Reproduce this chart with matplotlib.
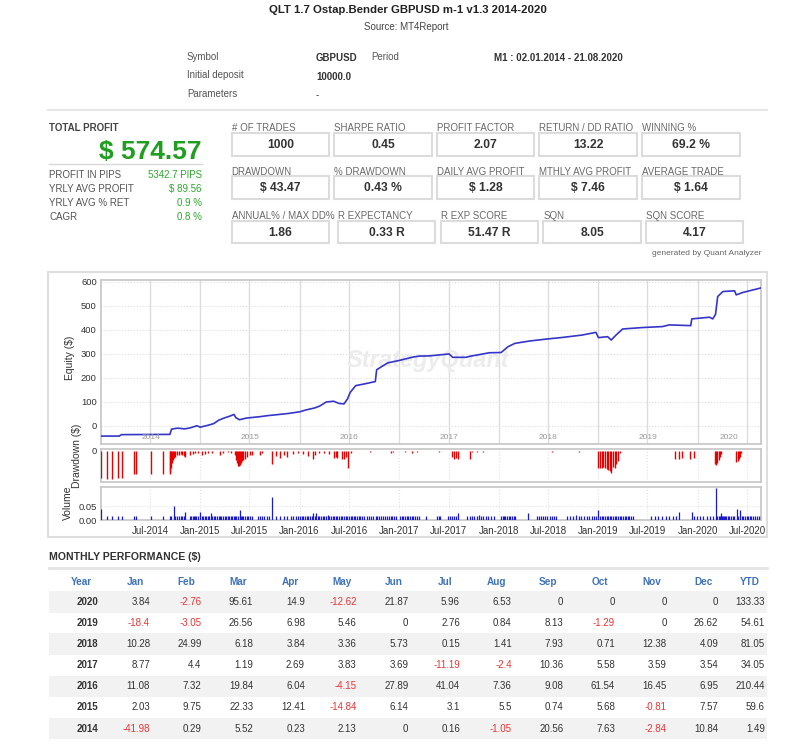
import matplotlib
matplotlib.use('Agg')
import matplotlib.pyplot as plt
import matplotlib.dates as mdates
import matplotlib.ticker as mticker
from matplotlib.patches import Rectangle
from matplotlib.lines import Line2D
import numpy as np
import pandas as pd

plt.rcParams['font.family'] = ['Liberation Sans', 'DejaVu Sans']

# ---- report data ----
TITLE = 'QLT 1.7 Ostap.Bender GBPUSD m-1 v1.3 2014-2020'
SOURCE = 'Source: MT4Report'
SYMBOL = 'GBPUSD'
PERIOD = 'M1 : 02.01.2014 - 21.08.2020'
DEPOSIT = '10000.0'

TOTAL_PROFIT = '$ 574.57'
SIDE_LABELS = ['PROFIT IN PIPS', 'YRLY AVG PROFIT', 'YRLY AVG % RET', 'CAGR']
SIDE_VALUES = ['5342.7 PIPS', '$ 89.56', '0.9 %', '0.8 %']

STAT_LABELS_1 = ['# OF TRADES', 'SHARPE RATIO', 'PROFIT FACTOR', 'RETURN / DD RATIO', 'WINNING %']
STAT_VALUES_1 = ['1000', '0.45', '2.07', '13.22', '69.2 %']
STAT_LABELS_2 = ['DRAWDOWN', '% DRAWDOWN', 'DAILY AVG PROFIT', 'MTHLY AVG PROFIT', 'AVERAGE TRADE']
STAT_VALUES_2 = ['$ 43.47', '0.43 %', '$ 1.28', '$ 7.46', '$ 1.64']
STAT_LABELS_3 = ['ANNUAL% / MAX DD%', 'R EXPECTANCY', 'R EXP SCORE', 'SQN', 'SQN SCORE']
STAT_VALUES_3 = ['1.86', '0.33 R', '51.47 R', '8.05', '4.17']

# equity curve ($)
EQ_DATES = ['2014-01-02', '2014-03-10', '2014-03-18', '2014-09-12', '2014-09-18', '2014-10-10',
            '2014-11-05', '2014-11-25', '2014-12-20',
            '2015-01-01', '2015-01-30', '2015-02-20', '2015-03-10', '2015-04-01', '2015-04-20',
            '2015-05-05', '2015-05-12', '2015-05-25', '2015-06-20', '2015-08-10', '2015-09-05',
            '2015-10-01', '2015-11-20',
            '2016-01-01', '2016-01-25', '2016-02-25', '2016-03-15', '2016-04-08', '2016-05-05',
            '2016-05-25', '2016-06-12', '2016-06-25', '2016-07-05', '2016-07-25', '2016-08-25',
            '2016-10-05', '2016-10-10', '2016-10-25', '2016-11-20',
            '2017-01-01', '2017-02-20', '2017-03-15', '2017-04-22', '2017-07-03', '2017-07-16',
            '2017-09-03', '2017-09-16', '2017-11-28',
            '2018-01-10', '2018-02-04', '2018-03-01', '2018-04-25', '2018-06-25', '2018-08-25',
            '2018-11-05', '2018-12-24',
            '2019-01-02', '2019-02-05', '2019-02-18', '2019-03-08', '2019-04-01', '2019-06-13',
            '2019-08-25', '2019-09-19', '2019-12-07', '2019-12-11',
            '2020-02-14', '2020-02-26', '2020-03-07', '2020-03-15', '2020-04-03', '2020-05-16',
            '2020-05-22', '2020-06-15', '2020-08-21']
EQ_VALUES = [-42, -42, -36, -35, -13, -9, -12, -8, 1,
             -5, 3, 10, 24, 34, 41, 48, 35, 26, 33, 39, 43, 46, 52,
             59, 67, 75, 83, 100, 103, 94, 92, 113, 140, 168, 175, 185, 234, 245, 263,
             273, 287, 291, 292, 300, 286, 286, 290, 305,
             306, 330, 344, 354, 362, 369, 379, 390,
             368, 372, 358, 379, 404, 410, 414, 421, 418, 446,
             453, 446, 465, 539, 560, 563, 546, 556, 575]

# drawdown bars ($)
DD_DATES = ['2014-01-03', '2014-01-24', '2014-02-12', '2014-03-06', '2014-03-19', '2014-05-03',
            '2014-05-12', '2014-07-04', '2014-08-17', '2014-09-11', '2014-09-14', '2014-09-17',
            '2014-09-20', '2014-09-23', '2014-09-26', '2014-10-02', '2014-10-08', '2014-10-15',
            '2014-10-22', '2014-10-28', '2014-11-02', '2014-11-07', '2014-11-25', '2014-12-04',
            '2014-12-13', '2014-12-23',
            '2015-01-06', '2015-01-17', '2015-01-28', '2015-02-14', '2015-03-15', '2015-03-26',
            '2015-04-12', '2015-04-23', '2015-05-09', '2015-05-13', '2015-05-16', '2015-05-19',
            '2015-05-22', '2015-05-26', '2015-05-30', '2015-06-04', '2015-06-09', '2015-06-15',
            '2015-06-21', '2015-07-03', '2015-07-09', '2015-08-08', '2015-08-15', '2015-09-20',
            '2015-10-06', '2015-10-20', '2015-11-03', '2015-11-17', '2015-12-07', '2015-12-26',
            '2016-01-15', '2016-02-02', '2016-02-19', '2016-02-25', '2016-03-14', '2016-04-01',
            '2016-04-19', '2016-05-07', '2016-05-13', '2016-05-19', '2016-06-06', '2016-06-12',
            '2016-06-18', '2016-06-27', '2016-07-06', '2016-09-16', '2016-11-30', '2016-12-10',
            '2017-01-22', '2017-02-15', '2017-03-08', '2017-05-27', '2017-07-12', '2017-07-20',
            '2017-07-28', '2017-08-05', '2017-09-16', '2017-09-25', '2017-10-12', '2017-11-06',
            '2017-12-04',
            '2018-01-20', '2018-03-03', '2018-05-28', '2018-07-15', '2018-09-20', '2018-10-22',
            '2018-11-20',
            '2019-01-02', '2019-01-08', '2019-01-14', '2019-01-20', '2019-01-26', '2019-02-01',
            '2019-02-07', '2019-02-13', '2019-02-19', '2019-02-25', '2019-03-03', '2019-03-09',
            '2019-03-15', '2019-03-21', '2019-10-12', '2019-10-24', '2019-11-06', '2019-12-05',
            '2019-12-18',
            '2020-03-06', '2020-03-10', '2020-03-14', '2020-03-18', '2020-03-22', '2020-03-26',
            '2020-05-22', '2020-05-27', '2020-06-01', '2020-06-06', '2020-06-10']
DD_VALUES = [-40, -42, -42, -41, -40, -35, -35, -34, -34, -34, -31, -25, -19, -14, -11, -9, -7, -6,
             -5, -6, -8, -9, -7, -5, -4, -3,
             -6, -5, -4, -3, -7, -3, -2, -3, -6, -14, -19, -22, -23, -21, -18, -16, -14, -12,
             -9, -7, -6, -6, -4, -20, -8, -11, -7, -9, -5, -4,
             -5, -8, -12, -6, -4, -3, -5, -11, -9, -11, -12, -13, -10, -25, -4, -2, -3, -2,
             -2, -3, -2, -1.5, -10, -12, -11, -12, -12, -2, -2, -1.5, -1,
             -1, -1, -1, -2, -1, -1.5, -1,
             -26, -25, -25, -24, -25, -27, -29, -30, -33, -24, -26, -20, -15, -4, -13, -13, -11,
             -12, -11,
             -20, -21, -19, -14, -10, -5, -17, -16, -13, -9, -4]

# volume bars (lots): ordinary trades plus the taller ones
VOL_BASE = 0.015
VOL_DATES = ['2014-01-24', '2014-02-12', '2014-03-06', '2014-03-19', '2014-05-03', '2014-05-12',
             '2014-07-04', '2014-08-17', '2014-09-11', '2014-09-16', '2014-10-02', '2014-10-08',
             '2014-10-15', '2014-10-22', '2014-10-28', '2014-11-02', '2014-11-25', '2014-11-29',
             '2014-12-04', '2014-12-09', '2014-12-13', '2014-12-18', '2014-12-23',
             '2015-01-06', '2015-01-12', '2015-01-17', '2015-01-22', '2015-01-28', '2015-02-03',
             '2015-02-14', '2015-02-20', '2015-02-26', '2015-03-04', '2015-03-10', '2015-03-14',
             '2015-03-20', '2015-03-26', '2015-04-01', '2015-04-07', '2015-04-12', '2015-04-18',
             '2015-04-23', '2015-04-29', '2015-05-04', '2015-05-09', '2015-05-14', '2015-05-19',
             '2015-05-30', '2015-06-04', '2015-06-09', '2015-06-15', '2015-06-21', '2015-06-27',
             '2015-07-03', '2015-07-09', '2015-08-01', '2015-08-08', '2015-08-15', '2015-08-24',
             '2015-09-05', '2015-09-12', '2015-10-06', '2015-10-20', '2015-11-03', '2015-11-17',
             '2015-12-01', '2015-12-07', '2015-12-20', '2015-12-26',
             '2016-01-04', '2016-01-09', '2016-01-15', '2016-01-21', '2016-01-27', '2016-02-02',
             '2016-02-08', '2016-02-14', '2016-02-25', '2016-03-08', '2016-03-14', '2016-03-20',
             '2016-03-26', '2016-04-01', '2016-04-07', '2016-04-19', '2016-04-25', '2016-05-01',
             '2016-05-07', '2016-05-13', '2016-05-19', '2016-05-25', '2016-05-31', '2016-06-06',
             '2016-06-12', '2016-06-18', '2016-06-24', '2016-06-30', '2016-07-06', '2016-07-12',
             '2016-07-18', '2016-07-24', '2016-07-30', '2016-08-05', '2016-08-11', '2016-08-17',
             '2016-08-23', '2016-09-05', '2016-09-12', '2016-09-20', '2016-09-27', '2016-10-06',
             '2016-10-12', '2016-10-18', '2016-10-25', '2016-11-02', '2016-11-09', '2016-11-16',
             '2016-11-24', '2016-11-30', '2016-12-06', '2016-12-12', '2016-12-19',
             '2017-01-04', '2017-01-10', '2017-01-16', '2017-01-22', '2017-01-28', '2017-02-03',
             '2017-02-09', '2017-02-15', '2017-02-21', '2017-03-01', '2017-03-08', '2017-03-15',
             '2017-04-10', '2017-05-20', '2017-05-27', '2017-06-01', '2017-06-28', '2017-07-05',
             '2017-07-12', '2017-07-20', '2017-07-28', '2017-09-08', '2017-09-16', '2017-09-25',
             '2017-10-03', '2017-10-12', '2017-10-28', '2017-11-06', '2017-11-15', '2017-11-24',
             '2017-12-04', '2017-12-14',
             '2018-01-10', '2018-01-15', '2018-01-20', '2018-01-26', '2018-02-01', '2018-02-07',
             '2018-02-13', '2018-02-19', '2018-02-25', '2018-03-03', '2018-05-20', '2018-05-28',
             '2018-06-05', '2018-06-13', '2018-06-21', '2018-06-29', '2018-07-07', '2018-07-15',
             '2018-07-23', '2018-08-01', '2018-09-07', '2018-09-20', '2018-10-02', '2018-10-22',
             '2018-11-01', '2018-11-10', '2018-11-20', '2018-11-30', '2018-12-08', '2018-12-16',
             '2018-12-24',
             '2019-01-08', '2019-01-14', '2019-01-20', '2019-01-26', '2019-02-01', '2019-02-07',
             '2019-02-13', '2019-02-19', '2019-02-25', '2019-03-03', '2019-03-09', '2019-03-15',
             '2019-03-21', '2019-03-27', '2019-04-02', '2019-04-08', '2019-04-14', '2019-04-20',
             '2019-04-26', '2019-05-02', '2019-05-08', '2019-07-15', '2019-07-28', '2019-08-10',
             '2019-08-24', '2019-09-07', '2019-09-20', '2019-10-03', '2019-10-15', '2019-12-20',
             '2019-12-30',
             '2020-01-10', '2020-01-22', '2020-02-03', '2020-02-14', '2020-02-26', '2020-03-14',
             '2020-03-18', '2020-03-22', '2020-03-30', '2020-04-03', '2020-04-07', '2020-04-11',
             '2020-04-16', '2020-04-21', '2020-04-27', '2020-05-03', '2020-05-09', '2020-05-15',
             '2020-05-30', '2020-06-11', '2020-06-17', '2020-06-23', '2020-06-29', '2020-07-05',
             '2020-07-11', '2020-07-17', '2020-07-24', '2020-07-31', '2020-08-07', '2020-08-14',
             '2020-08-20']
VOL_PEAK_DATES = ['2014-01-03', '2014-09-26', '2014-11-07', '2014-12-31', '2015-02-08', '2015-05-26',
                  '2015-09-20', '2016-02-19', '2016-03-02', '2016-04-13', '2017-08-05', '2017-10-20',
                  '2018-04-17', '2018-10-12', '2019-01-02', '2019-10-24', '2019-12-10', '2020-03-08',
                  '2020-03-26', '2020-05-25', '2020-06-05']
VOL_PEAK_LOTS = [0.04, 0.05, 0.03, 0.03, 0.025, 0.035, 0.083, 0.025, 0.025, 0.02, 0.025, 0.02,
                 0.025, 0.02, 0.035, 0.03, 0.03, 0.115, 0.025, 0.04, 0.035]

MONTHS = ['Jan', 'Feb', 'Mar', 'Apr', 'May', 'Jun', 'Jul', 'Aug', 'Sep', 'Oct', 'Nov', 'Dec', 'YTD']
YEARS = ['2020', '2019', '2018', '2017', '2016', '2015', '2014']
PERF_2020 = [3.84, -2.76, 95.61, 14.9, -12.62, 21.87, 5.96, 6.53, 0, 0, 0, 0, 133.33]
PERF_2019 = [-18.4, -3.05, 26.56, 6.98, 5.46, 0, 2.76, 0.84, 8.13, -1.29, 0, 26.62, 54.61]
PERF_2018 = [10.28, 24.99, 6.18, 3.84, 3.36, 5.73, 0.15, 1.41, 7.93, 0.71, 12.38, 4.09, 81.05]
PERF_2017 = [8.77, 4.4, 1.19, 2.69, 3.83, 3.69, -11.19, -2.4, 10.36, 5.58, 3.59, 3.54, 34.05]
PERF_2016 = [11.08, 7.32, 19.84, 6.04, -4.15, 27.89, 41.04, 7.36, 9.08, 61.54, 16.45, 6.95, 210.44]
PERF_2015 = [2.03, 9.75, 22.33, 12.41, -14.84, 6.14, 3.1, 5.5, 0.74, 5.68, -0.81, 7.57, 59.6]
PERF_2014 = [-41.98, 0.29, 5.52, 0.23, 2.13, 0, 0.16, -1.05, 20.56, 7.63, -2.84, 10.84, 1.49]
PERF_ROWS = [PERF_2020, PERF_2019, PERF_2018, PERF_2017, PERF_2016, PERF_2015, PERF_2014]

START, END = '2014-01-02', '2020-08-21'

# ---- figure in pixel coordinates ----
W, H = 787, 750
fig = plt.figure(figsize=(W / 100, H / 100), dpi=100)
fig.patch.set_facecolor('white')

GREEN = '#1f9e1f'
DARK = '#333333'
GREY = '#666666'
RED = '#ee3333'
BLUE = '#3f72b8'


def fx(x):
    return x / W


def fy(y):
    return 1 - y / H


def txt(x, y, s, size=7, color=GREY, weight='normal', ha='left', **kw):
    fig.text(fx(x), fy(y), s, fontsize=size, color=color, fontweight=weight,
             ha=ha, va='center', **kw)


def hline(x0, x1, y, color='#e6e6e6', lw=1.5):
    fig.add_artist(Line2D([fx(x0), fx(x1)], [fy(y), fy(y)], color=color, lw=lw,
                          transform=fig.transFigure))


def rect(x0, y0, x1, y1, ec='#dcdcdc', fc='none', lw=1.5, z=1):
    fig.add_artist(Rectangle((fx(x0), fy(y1)), (x1 - x0) / W, (y1 - y0) / H,
                             transform=fig.transFigure, ec=ec, fc=fc, lw=lw, zorder=z))


# header
txt(408, 10, TITLE, size=8.2, color='#222222', weight='bold', ha='center')
txt(406, 27, SOURCE, size=7, color='#444444', ha='center')
txt(187, 57, 'Symbol', color='#555555')
txt(316, 58, SYMBOL, color=DARK, weight='bold')
txt(371, 57, 'Period', color='#555555')
txt(494, 58, PERIOD, color=DARK, weight='bold')
txt(187, 75.5, 'Initial deposit', color='#555555')
txt(316, 76.5, DEPOSIT, color=DARK, weight='bold')
txt(187, 94, 'Parameters', color='#555555')
txt(316, 95, '-', color=DARK)
hline(48, 767, 109.5)

# total profit block
txt(49, 128, 'TOTAL PROFIT', size=7, color='#444444', weight='bold')
txt(202, 152, TOTAL_PROFIT, size=19, color=GREEN, weight='bold', ha='right')
hline(49, 202, 164, color='#d8d8d8', lw=1)
for i, (lab, val) in enumerate(zip(SIDE_LABELS, SIDE_VALUES)):
    yy = 174.5 + i * 14.2
    txt(49, yy, lab, color='#555555')
    txt(202, yy, val, color='#2ca82c', ha='right')

# stat boxes
rows = [(STAT_LABELS_1, STAT_VALUES_1, [231.7, 334.3, 436.7, 539.3, 642.3], 97.7, 128.3, 132.7, 155.7),
        (STAT_LABELS_2, STAT_VALUES_2, [231.7, 334.3, 436.7, 539.3, 642.3], 97.7, 172.3, 176.3, 199.3),
        (STAT_LABELS_3, STAT_VALUES_3, [231.7, 337.7, 440.7, 543.3, 645.7], 97.7, 216, 220.7, 243.3)]
for labels, values, xs, bw, ly, y0, y1 in rows:
    for lab, val, x0 in zip(labels, values, xs):
        txt(x0, ly, lab, color='#6a6a6a')
        rect(x0, y0, x0 + bw, y1)
        txt(x0 + bw / 2, (y0 + y1) / 2 + 0.5, val, size=8.7, color=DARK, weight='bold', ha='center')
txt(762, 253.5, 'generated by Quant Analyzer', size=6, color='#666666', ha='right')

# ---- charts ----
rect(48, 272, 767, 537, ec='#dedede', lw=1.5)
L, R = 101, 761
ax_eq = fig.add_axes([fx(L), fy(444), (R - L) / W, (444 - 280) / H])
ax_dd = fig.add_axes([fx(L), fy(481.7), (R - L) / W, (481.7 - 449.3) / H], sharex=ax_eq)
ax_vol = fig.add_axes([fx(L), fy(520), (R - L) / W, (520 - 487.3) / H], sharex=ax_eq)

eq_t = pd.to_datetime(EQ_DATES)
dd_t = pd.to_datetime(DD_DATES)
vol_t = pd.to_datetime(VOL_DATES)
pk_t = pd.to_datetime(VOL_PEAK_DATES)
t0, t1 = pd.Timestamp(START), pd.Timestamp(END)

for ax in (ax_eq, ax_dd, ax_vol):
    for sp in ax.spines.values():
        sp.set_color('#c9c9c9')
        sp.set_linewidth(1.3)
    ax.tick_params(length=0, labelsize=6.8, colors='#333333', pad=3)
    ax.set_axisbelow(True)

# equity
ax_eq.plot(eq_t, EQ_VALUES, color='#3535c8', lw=1.2, zorder=3)
ax_eq.set_xlim(t0, t1)
ax_eq.set_ylim(-75, 608)
ax_eq.set_yticks(range(0, 601, 100))
ax_eq.xaxis.set_major_locator(mdates.YearLocator())
ax_eq.xaxis.set_minor_locator(mdates.MonthLocator(bymonth=[7]))
ax_eq.grid(axis='x', which='major', color='#dcdcdc', lw=1)
ax_eq.grid(axis='x', which='minor', color='#e2e2e2', lw=0.8, ls=':')
ax_eq.grid(axis='y', color='#dedede', lw=0.8, ls=':')
ax_eq.tick_params(axis='x', which='both', labelbottom=False, length=0)
ax_eq.text(0.496, 0.51, 'StrategyQuant', transform=ax_eq.transAxes, fontsize=17,
           fontweight='bold', style='italic', color='#ececec', ha='center', va='center', zorder=1)
for yr in range(2014, 2021):
    a = max(pd.Timestamp(f'{yr}-01-01'), t0)
    b = min(pd.Timestamp(f'{yr + 1}-01-01'), t1)
    ax_eq.text(a + (b - a) / 2, -47, str(yr), fontsize=6, color='#9a9a9a', ha='center', va='center')

# drawdown
ax_dd.vlines(dd_t, DD_VALUES, 0, color='#e80000', lw=1.0, zorder=3)
ax_dd.set_ylim(-46, 2)
ax_dd.set_yticks([0])
ax_dd.xaxis.set_major_locator(mdates.MonthLocator(bymonth=[1, 7]))
ax_dd.grid(axis='x', color='#e2e2e2', lw=0.8, ls=':')
ax_dd.tick_params(axis='x', labelbottom=False)

# volume
ax_vol.vlines(vol_t, 0, VOL_BASE, color='#1a1ad0', lw=0.9, zorder=3)
ax_vol.vlines(pk_t, 0, VOL_PEAK_LOTS, color='#1a1ad0', lw=0.9, zorder=3)
ax_vol.set_ylim(0, 0.119)
ax_vol.set_yticks([0, 0.05])
ax_vol.yaxis.set_major_formatter(mticker.FormatStrFormatter('%.2f'))
ax_vol.xaxis.set_major_locator(mdates.MonthLocator(bymonth=[1, 7]))
ax_vol.xaxis.set_major_formatter(mdates.DateFormatter('%b-%Y'))
ax_vol.grid(axis='both', color='#e2e2e2', lw=0.8, ls=':')
ax_vol.tick_params(axis='x', labelsize=7, pad=4)
ax_eq.set_xlim(t0, t1)

fig.text(fx(70), fy(358), 'Equity ($)', rotation=90, fontsize=7.5, color='#333333', ha='center', va='center')
fig.text(fx(77), fy(456), 'Drawdown ($)', rotation=90, fontsize=7.5, color='#333333', ha='center', va='center')
fig.text(fx(68), fy(503), 'Volume', rotation=90, fontsize=7.5, color='#333333', ha='center', va='center')

# ---- monthly performance table ----
txt(49, 557, 'MONTHLY PERFORMANCE ($)', size=7.6, color='#333333', weight='bold')
hline(49, 767, 567.5, color='#e4e4e4', lw=2)
col_right = [150 + 51.67 * i for i in range(12)] + [765]
txt(81.7, 581.7, 'Year', size=7.2, color=BLUE, weight='bold', ha='center')
for m, xr in zip(MONTHS, col_right):
    txt(xr - 15, 581.7, m, size=7.2, color=BLUE, weight='bold', ha='center')
for i, (yr, vals) in enumerate(zip(YEARS, PERF_ROWS)):
    yc = 602 + i * 21.1
    if i % 2 == 0:
        rect(49, yc - 10.8, 767, yc + 10.8, ec='none', fc='#f2f2f2', lw=0, z=0)
    txt(98.3, yc, yr, size=7, color=DARK, weight='bold', ha='right')
    for v, xr in zip(vals, col_right):
        txt(xr, yc, f'{v:g}', size=7, color=RED if v < 0 else DARK, ha='right')

fig.savefig('out.png', dpi=100, facecolor='white')
